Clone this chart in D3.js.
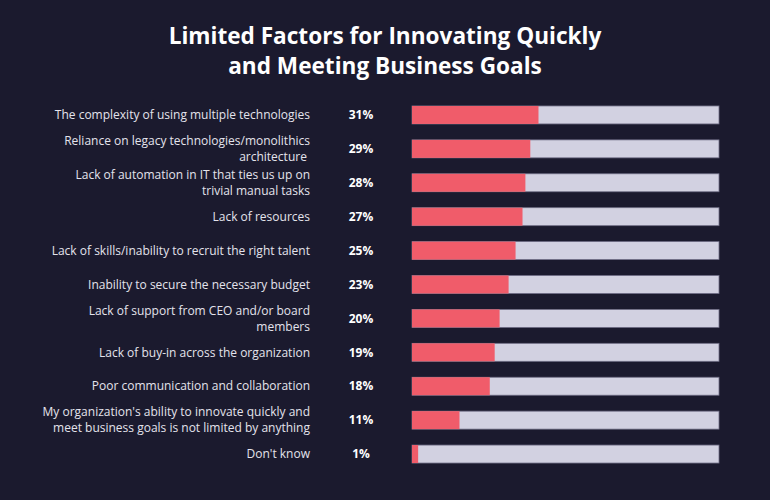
<!DOCTYPE html>
<html>
<head>
<meta charset="utf-8">
<script src="https://cdn.jsdelivr.net/npm/d3@7"></script>
<style>
    html, body { margin: 0; padding: 0; background: #1b1a2e; }
    text { font-family: "Open Sans", sans-serif; }
</style>
</head>
<body>
<div id="chart"></div>
<script>
const titleLines = ["Limited Factors for Innovating Quickly", "and Meeting Business Goals"]

const categories = [
    ["The complexity of using multiple technologies"],
    ["Reliance on legacy technologies/monolithics", "architecture "],
    ["Lack of automation in IT that ties us up on", "trivial manual tasks"],
    ["Lack of resources"],
    ["Lack of skills/inability to recruit the right talent"],
    ["Inability to secure the necessary budget"],
    ["Lack of support from CEO and/or board", "members"],
    ["Lack of buy-in across the organization"],
    ["Poor communication and collaboration"],
    ["My organization's ability to innovate quickly and", "meet business goals is not limited by anything"],
    ["Don't know"]
]
// printed labels
const values = [31, 29, 28, 27, 25, 23, 20, 19, 18, 11, 1]
// bar lengths as drawn in the picture (they don't quite match the rounded labels)
const barValues = [30.9, 28.9, 27.7, 27.0, 25.3, 23.6, 21.4, 20.2, 19.0, 11.6, 1.5]
const scaleMax = 75

const width = 770, height = 500

const svg = d3.select("#chart")
    .append("svg")
    .attr("width", width)
    .attr("height", height)

svg.append("rect")
    .attr("width", width)
    .attr("height", height)
    .attr("fill", "#1b1a2e")

// title
svg.append("g")
    .selectAll("text")
    .data(titleLines)
    .join("text")
    .attr("x", width / 2)
    .attr("y", (d, i) => 44 + i * 30)
    .attr("text-anchor", "middle")
    .attr("fill", "#ffffff")
    .attr("font-size", 22.6)
    .attr("font-weight", 700)
    .text(d => d)

const rowIds = categories.map((c, i) => i)

const y = d3.scaleBand()
    .domain(rowIds)
    .range([98, 471])
    .paddingInner(0.47)
    .paddingOuter(0.235)

const x = d3.scaleLinear()
    .domain([0, scaleMax])
    .range([412, 719])

const rows = svg.append("g")
    .selectAll("g")
    .data(rowIds)
    .join("g")
    .attr("transform", i => `translate(0,${y(i)})`)

// background track
rows.append("rect")
    .attr("x", x(0))
    .attr("y", 0)
    .attr("width", x(scaleMax) - x(0))
    .attr("height", y.bandwidth())
    .attr("fill", "#d2d1e1")
    .attr("stroke", "#6f6d85")
    .attr("stroke-width", 0.8)

// value bar
rows.append("rect")
    .attr("x", x(0))
    .attr("y", 0)
    .attr("width", i => x(barValues[i]) - x(0))
    .attr("height", y.bandwidth())
    .attr("fill", "#f05c6a")

// percent labels
rows.append("text")
    .attr("x", 361)
    .attr("y", y.bandwidth() / 2)
    .attr("dy", "0.35em")
    .attr("text-anchor", "middle")
    .attr("fill", "#ffffff")
    .attr("font-size", 12)
    .attr("font-weight", 700)
    .text(i => values[i] + "%")

// category labels, one or two lines
rows.append("text")
    .attr("text-anchor", "end")
    .attr("fill", "#e4e3ec")
    .attr("font-size", 12)
    .style("white-space", "pre")
    .selectAll("tspan")
    .data(i => categories[i].map((line, k) => ({ line, k, n: categories[i].length })))
    .join("tspan")
    .attr("x", 310)
    .attr("y", d => y.bandwidth() / 2 + (d.k - (d.n - 1) / 2) * 16)
    .attr("dy", "0.35em")
    .text(d => d.line)
</script>
</body>
</html>
